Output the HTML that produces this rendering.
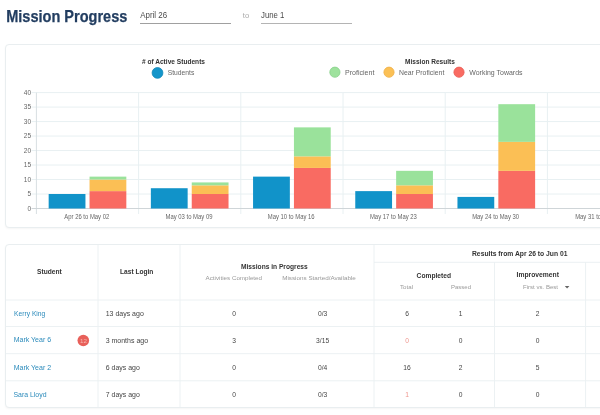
<!DOCTYPE html>
<html><head><meta charset="utf-8">
<style>
html,body{margin:0;padding:0;background:#fff;width:600px;height:415px;overflow:hidden;}
body{position:relative;font-family:"Liberation Sans",Arial,sans-serif;color:#333;}
.uline{position:absolute;height:1px;background:#a0a0a0;}
.card{position:absolute;border:1px solid #e9eef0;border-radius:4px;background:#fff;box-shadow:0 1px 2px rgba(0,0,0,0.04);}
svg{will-change:transform;}
svg text{font-family:"Liberation Sans",Arial,sans-serif;}
.yl{font-size:6.5px;fill:#666;text-anchor:end;}
.xl{font-size:6.5px;fill:#666;text-anchor:middle;}
.vl{position:absolute;width:1px;background:#e8eff2;}
.hl{position:absolute;height:1px;background:#e8eff2;}
</style></head><body>
<div class="uline" style="left:140px;top:22.5px;width:91px;"></div>
<div class="uline" style="left:261px;top:22.5px;width:91px;background:#b4b4b4;"></div>
<div class="card" style="left:5px;top:44px;width:620px;height:182px;"></div>
<div class="card" style="left:5px;top:244px;width:620px;height:162px;"></div>
<svg width="600" height="415" style="position:absolute;left:0;top:0;">
<circle cx="157.5" cy="72.9" r="5.4" fill="#1495ca" stroke="#0f86b8" stroke-width="0.8"/>
<circle cx="334.9" cy="72.2" r="5.1" fill="#9ee29d" stroke="#88d08a" stroke-width="0.8"/>
<circle cx="389" cy="72.2" r="5.1" fill="#fbc055" stroke="#efb047" stroke-width="0.8"/>
<circle cx="459" cy="72.2" r="5.1" fill="#f96b62" stroke="#ea5d55" stroke-width="0.8"/>
<line x1="31.5" x2="600" y1="194.01" y2="194.01" stroke="#e8f0f2" stroke-width="1"/>
<line x1="31.5" x2="600" y1="179.53" y2="179.53" stroke="#e8f0f2" stroke-width="1"/>
<line x1="31.5" x2="600" y1="165.04" y2="165.04" stroke="#e8f0f2" stroke-width="1"/>
<line x1="31.5" x2="600" y1="150.55" y2="150.55" stroke="#e8f0f2" stroke-width="1"/>
<line x1="31.5" x2="600" y1="136.06" y2="136.06" stroke="#e8f0f2" stroke-width="1"/>
<line x1="31.5" x2="600" y1="121.58" y2="121.58" stroke="#e8f0f2" stroke-width="1"/>
<line x1="31.5" x2="600" y1="107.09" y2="107.09" stroke="#e8f0f2" stroke-width="1"/>
<line x1="31.5" x2="600" y1="92.60" y2="92.60" stroke="#e8f0f2" stroke-width="1"/>
<line x1="138.60" x2="138.60" y1="92.60" y2="214" stroke="#e8f0f2" stroke-width="1"/>
<line x1="240.80" x2="240.80" y1="92.60" y2="214" stroke="#e8f0f2" stroke-width="1"/>
<line x1="343.00" x2="343.00" y1="92.60" y2="214" stroke="#e8f0f2" stroke-width="1"/>
<line x1="445.20" x2="445.20" y1="92.60" y2="214" stroke="#e8f0f2" stroke-width="1"/>
<line x1="547.40" x2="547.40" y1="92.60" y2="214" stroke="#e8f0f2" stroke-width="1"/>
<line x1="649.60" x2="649.60" y1="92.60" y2="214" stroke="#e8f0f2" stroke-width="1"/>
<line x1="36.4" x2="36.4" y1="92.60" y2="214" stroke="#d8dfe2" stroke-width="1"/>
<line x1="31.5" x2="600" y1="208.5" y2="208.5" stroke="#cfd5d8" stroke-width="1"/>
<rect x="48.66" y="194.01" width="36.79" height="14.49" fill="#1193c9"/>
<rect x="89.54" y="191.12" width="36.79" height="17.38" fill="#f96b62"/>
<rect x="89.54" y="179.53" width="36.79" height="11.59" fill="#fbbf55"/>
<rect x="89.54" y="176.63" width="36.79" height="2.90" fill="#9ae29b"/>
<text x="64.31" y="219.30" font-size="6.6" fill="#666" textLength="44.98" lengthAdjust="spacingAndGlyphs">Apr 26 to May 02</text>
<rect x="150.86" y="188.22" width="36.79" height="20.28" fill="#1193c9"/>
<rect x="191.74" y="194.01" width="36.79" height="14.49" fill="#f96b62"/>
<rect x="191.74" y="185.32" width="36.79" height="8.69" fill="#fbbf55"/>
<rect x="191.74" y="182.42" width="36.79" height="2.90" fill="#9ae29b"/>
<text x="165.53" y="219.30" font-size="6.6" fill="#666" textLength="46.95" lengthAdjust="spacingAndGlyphs">May 03 to May 09</text>
<rect x="253.06" y="176.63" width="36.79" height="31.87" fill="#1193c9"/>
<rect x="293.94" y="167.94" width="36.79" height="40.56" fill="#f96b62"/>
<rect x="293.94" y="156.34" width="36.79" height="11.59" fill="#fbbf55"/>
<rect x="293.94" y="127.37" width="36.79" height="28.98" fill="#9ae29b"/>
<text x="267.73" y="219.30" font-size="6.6" fill="#666" textLength="46.95" lengthAdjust="spacingAndGlyphs">May 10 to May 16</text>
<rect x="355.26" y="191.12" width="36.79" height="17.38" fill="#1193c9"/>
<rect x="396.14" y="194.01" width="36.79" height="14.49" fill="#f96b62"/>
<rect x="396.14" y="185.32" width="36.79" height="8.69" fill="#fbbf55"/>
<rect x="396.14" y="170.83" width="36.79" height="14.49" fill="#9ae29b"/>
<text x="369.93" y="219.30" font-size="6.6" fill="#666" textLength="46.95" lengthAdjust="spacingAndGlyphs">May 17 to May 23</text>
<rect x="457.46" y="196.91" width="36.79" height="11.59" fill="#1193c9"/>
<rect x="498.34" y="170.83" width="36.79" height="37.67" fill="#f96b62"/>
<rect x="498.34" y="141.86" width="36.79" height="28.98" fill="#fbbf55"/>
<rect x="498.34" y="104.19" width="36.79" height="37.67" fill="#9ae29b"/>
<text x="472.13" y="219.30" font-size="6.6" fill="#666" textLength="46.95" lengthAdjust="spacingAndGlyphs">May 24 to May 30</text>
<text x="575.14" y="219.30" font-size="6.6" fill="#666" textLength="45.31" lengthAdjust="spacingAndGlyphs">May 31 to Jun 01</text>
<text x="27.39" y="210.80" font-size="6.5" fill="#666" textLength="3.62" lengthAdjust="spacingAndGlyphs">0</text>
<text x="27.39" y="196.31" font-size="6.5" fill="#666" textLength="3.62" lengthAdjust="spacingAndGlyphs">5</text>
<text x="23.77" y="181.83" font-size="6.5" fill="#666" textLength="7.23" lengthAdjust="spacingAndGlyphs">10</text>
<text x="23.77" y="167.34" font-size="6.5" fill="#666" textLength="7.23" lengthAdjust="spacingAndGlyphs">15</text>
<text x="23.77" y="152.85" font-size="6.5" fill="#666" textLength="7.23" lengthAdjust="spacingAndGlyphs">20</text>
<text x="23.77" y="138.36" font-size="6.5" fill="#666" textLength="7.23" lengthAdjust="spacingAndGlyphs">25</text>
<text x="23.77" y="123.88" font-size="6.5" fill="#666" textLength="7.23" lengthAdjust="spacingAndGlyphs">30</text>
<text x="23.77" y="109.39" font-size="6.5" fill="#666" textLength="7.23" lengthAdjust="spacingAndGlyphs">35</text>
<text x="23.77" y="94.90" font-size="6.5" fill="#666" textLength="7.23" lengthAdjust="spacingAndGlyphs">40</text>
<line x1="98" x2="98" y1="245" y2="407" stroke="#ecf1f3" stroke-width="1"/>
<line x1="180" x2="180" y1="245" y2="407" stroke="#ecf1f3" stroke-width="1"/>
<line x1="374" x2="374" y1="245" y2="407" stroke="#ecf1f3" stroke-width="1"/>
<line x1="494.5" x2="494.5" y1="262" y2="407" stroke="#ecf1f3" stroke-width="1"/>
<line x1="585.6" x2="585.6" y1="262" y2="407" stroke="#ecf1f3" stroke-width="1"/>
<line x1="374" x2="600" y1="262.3" y2="262.3" stroke="#ecf1f3" stroke-width="1"/>
<line x1="6" x2="600" y1="300" y2="300" stroke="#ecf1f3" stroke-width="1"/>
<line x1="6" x2="600" y1="326.5" y2="326.5" stroke="#ecf1f3" stroke-width="1"/>
<line x1="6" x2="600" y1="353.7" y2="353.7" stroke="#ecf1f3" stroke-width="1"/>
<line x1="6" x2="600" y1="380.8" y2="380.8" stroke="#ecf1f3" stroke-width="1"/>
<circle cx="83.3" cy="340.50" r="5.8" fill="#e8605a"/>
<path d="M564.8 286 L569.4 286 L567.1 288.6 Z" fill="#666"/>
<text x="6.20" y="21.60" font-size="16.3" fill="#223d60" font-weight="bold" stroke="#223d60" stroke-width="0.25" textLength="121.20" lengthAdjust="spacingAndGlyphs">Mission Progress</text>
<text x="140.20" y="17.90" font-size="8.3" fill="#4a4a4a" textLength="26.90" lengthAdjust="spacingAndGlyphs">April 26</text>
<text x="242.80" y="18.00" font-size="6.5" fill="#aaa" textLength="6.40" lengthAdjust="spacingAndGlyphs">to</text>
<text x="261.00" y="17.90" font-size="8.3" fill="#4a4a4a" textLength="23.40" lengthAdjust="spacingAndGlyphs">June 1</text>
<text x="141.90" y="63.70" font-size="6.6" fill="#333" font-weight="bold" textLength="63.10" lengthAdjust="spacingAndGlyphs"># of Active Students</text>
<text x="167.70" y="75.30" font-size="7" fill="#666" textLength="26.60" lengthAdjust="spacingAndGlyphs">Students</text>
<text x="405.10" y="63.70" font-size="6.6" fill="#333" font-weight="bold" textLength="49.70" lengthAdjust="spacingAndGlyphs">Mission Results</text>
<text x="345.00" y="75.30" font-size="7" fill="#666" textLength="29.40" lengthAdjust="spacingAndGlyphs">Proficient</text>
<text x="399.00" y="75.30" font-size="7" fill="#666" textLength="45.30" lengthAdjust="spacingAndGlyphs">Near Proficient</text>
<text x="469.30" y="75.30" font-size="7" fill="#666" textLength="53.20" lengthAdjust="spacingAndGlyphs">Working Towards</text>
<text x="37.00" y="274.30" font-size="7" fill="#333" font-weight="bold" textLength="24.70" lengthAdjust="spacingAndGlyphs">Student</text>
<text x="120.00" y="274.40" font-size="7" fill="#333" font-weight="bold" textLength="33.40" lengthAdjust="spacingAndGlyphs">Last Login</text>
<text x="241.00" y="268.50" font-size="7" fill="#333" font-weight="bold" textLength="66.70" lengthAdjust="spacingAndGlyphs">Missions in Progress</text>
<text x="205.60" y="280.00" font-size="5.8" fill="#999" textLength="56.40" lengthAdjust="spacingAndGlyphs">Activities Completed</text>
<text x="282.20" y="280.00" font-size="5.8" fill="#999" textLength="73.60" lengthAdjust="spacingAndGlyphs">Missions Started/Available</text>
<text x="472.00" y="256.00" font-size="7" fill="#333" font-weight="bold" textLength="95.40" lengthAdjust="spacingAndGlyphs">Results from Apr 26 to Jun 01</text>
<text x="416.60" y="277.60" font-size="7" fill="#333" font-weight="bold" textLength="34.40" lengthAdjust="spacingAndGlyphs">Completed</text>
<text x="400.00" y="289.40" font-size="5.8" fill="#999" textLength="13.00" lengthAdjust="spacingAndGlyphs">Total</text>
<text x="451.00" y="289.40" font-size="5.8" fill="#999" textLength="20.00" lengthAdjust="spacingAndGlyphs">Passed</text>
<text x="516.60" y="277.00" font-size="7" fill="#333" font-weight="bold" textLength="42.40" lengthAdjust="spacingAndGlyphs">Improvement</text>
<text x="523.00" y="289.40" font-size="5.8" fill="#999" textLength="35.00" lengthAdjust="spacingAndGlyphs">First vs. Best</text>
<text x="14.10" y="315.90" font-size="7.6" fill="#2a8abb" textLength="31.20" lengthAdjust="spacingAndGlyphs">Kerry King</text>
<text x="105.70" y="315.90" font-size="7.6" fill="#444" textLength="38.10" lengthAdjust="spacingAndGlyphs">13 days ago</text>
<text x="232.14" y="315.90" font-size="7.6" fill="#444" textLength="3.72" lengthAdjust="spacingAndGlyphs">0</text>
<text x="317.95" y="315.90" font-size="7.6" fill="#444" textLength="9.30" lengthAdjust="spacingAndGlyphs">0/3</text>
<text x="405.14" y="315.90" font-size="7.6" fill="#444" textLength="3.72" lengthAdjust="spacingAndGlyphs">6</text>
<text x="458.64" y="315.90" font-size="7.6" fill="#444" textLength="3.72" lengthAdjust="spacingAndGlyphs">1</text>
<text x="535.74" y="315.90" font-size="7.6" fill="#444" textLength="3.72" lengthAdjust="spacingAndGlyphs">2</text>
<text x="13.70" y="342.20" font-size="7.6" fill="#2a8abb" textLength="37.40" lengthAdjust="spacingAndGlyphs">Mark Year 6</text>
<text x="105.70" y="342.90" font-size="7.6" fill="#444" textLength="42.37" lengthAdjust="spacingAndGlyphs">3 months ago</text>
<text x="79.95" y="342.60" font-size="6.2" fill="#f7b8b0" textLength="6.90" lengthAdjust="spacingAndGlyphs">12</text>
<text x="232.14" y="342.90" font-size="7.6" fill="#444" textLength="3.72" lengthAdjust="spacingAndGlyphs">3</text>
<text x="316.09" y="342.90" font-size="7.6" fill="#444" textLength="13.02" lengthAdjust="spacingAndGlyphs">3/15</text>
<text x="405.14" y="342.90" font-size="7.6" fill="#ee958d" textLength="3.72" lengthAdjust="spacingAndGlyphs">0</text>
<text x="458.64" y="342.90" font-size="7.6" fill="#444" textLength="3.72" lengthAdjust="spacingAndGlyphs">0</text>
<text x="535.74" y="342.90" font-size="7.6" fill="#444" textLength="3.72" lengthAdjust="spacingAndGlyphs">0</text>
<text x="13.70" y="370.20" font-size="7.6" fill="#2a8abb" textLength="37.40" lengthAdjust="spacingAndGlyphs">Mark Year 2</text>
<text x="105.80" y="370.20" font-size="7.6" fill="#444" textLength="34.00" lengthAdjust="spacingAndGlyphs">6 days ago</text>
<text x="232.14" y="370.20" font-size="7.6" fill="#444" textLength="3.72" lengthAdjust="spacingAndGlyphs">0</text>
<text x="317.95" y="370.20" font-size="7.6" fill="#444" textLength="9.30" lengthAdjust="spacingAndGlyphs">0/4</text>
<text x="403.28" y="370.20" font-size="7.6" fill="#444" textLength="7.44" lengthAdjust="spacingAndGlyphs">16</text>
<text x="458.64" y="370.20" font-size="7.6" fill="#444" textLength="3.72" lengthAdjust="spacingAndGlyphs">2</text>
<text x="535.74" y="370.20" font-size="7.6" fill="#444" textLength="3.72" lengthAdjust="spacingAndGlyphs">5</text>
<text x="13.50" y="396.60" font-size="7.6" fill="#2a8abb" textLength="33.00" lengthAdjust="spacingAndGlyphs">Sara Lloyd</text>
<text x="105.80" y="396.60" font-size="7.6" fill="#444" textLength="34.00" lengthAdjust="spacingAndGlyphs">7 days ago</text>
<text x="232.14" y="396.60" font-size="7.6" fill="#444" textLength="3.72" lengthAdjust="spacingAndGlyphs">0</text>
<text x="317.95" y="396.60" font-size="7.6" fill="#444" textLength="9.30" lengthAdjust="spacingAndGlyphs">0/3</text>
<text x="405.14" y="396.60" font-size="7.6" fill="#ee958d" textLength="3.72" lengthAdjust="spacingAndGlyphs">1</text>
<text x="458.64" y="396.60" font-size="7.6" fill="#444" textLength="3.72" lengthAdjust="spacingAndGlyphs">0</text>
<text x="535.74" y="396.60" font-size="7.6" fill="#444" textLength="3.72" lengthAdjust="spacingAndGlyphs">0</text>
</svg>
</body></html>
